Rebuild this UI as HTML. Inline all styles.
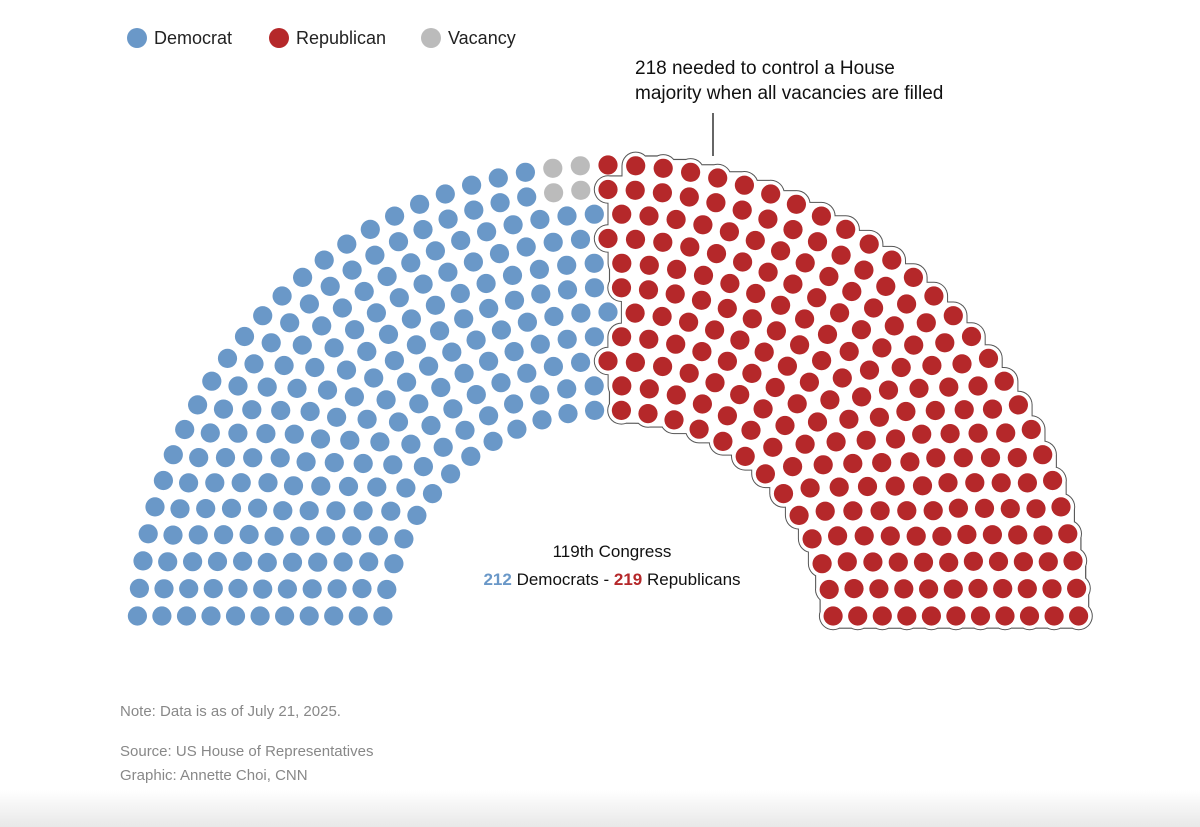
<!DOCTYPE html>
<html><head><meta charset="utf-8"><style>
html,body{margin:0;padding:0;background:#fff;}
body{width:1200px;height:827px;overflow:hidden;position:relative;font-family:"Liberation Sans",sans-serif;}
.fade{position:absolute;left:0;top:790px;width:1200px;height:37px;background:linear-gradient(#fff,#e8e8e8);}
</style></head><body>
<svg id="s" width="1200" height="827" style="position:absolute;left:0;top:0">
<defs>
<filter id="close" x="-5%" y="-5%" width="110%" height="110%">
<feMorphology operator="dilate" radius="6" result="d"/>
<feMorphology in="d" operator="erode" radius="6"/>
</filter>
</defs>
<g font-family="Liberation Sans, sans-serif">
<circle cx="137" cy="38" r="10" fill="#6a98c8"/><text x="154" y="44" font-size="18" fill="#222">Democrat</text>
<circle cx="279" cy="38" r="10" fill="#b5282a"/><text x="296" y="44" font-size="18" fill="#222">Republican</text>
<circle cx="431" cy="38" r="10" fill="#bbb"/><text x="448" y="44" font-size="18" fill="#222">Vacancy</text>
<text x="635" y="74" font-size="19" fill="#111">218 needed to control a House</text>
<text x="635" y="99" font-size="19" fill="#111">majority when all vacancies are filled</text>
<line x1="713" y1="113" x2="713" y2="156" stroke="#333" stroke-width="1.5"/>
<text x="612" y="557" font-size="17" fill="#111" text-anchor="middle">119th Congress</text>
<text x="612" y="585" font-size="17" fill="#111" text-anchor="middle"><tspan fill="#6a98c8" font-weight="bold">212</tspan> Democrats - <tspan fill="#b5282a" font-weight="bold">219</tspan> Republicans</text>
<text x="120" y="716" font-size="15" fill="#888">Note: Data is as of July 21, 2025.</text>
<text x="120" y="756" font-size="15" fill="#888">Source: US House of Representatives</text>
<text x="120" y="780" font-size="15" fill="#888">Graphic: Annette Choi, CNN</text>
</g>
<g id="l1" filter="url(#close)"></g><g id="l2" filter="url(#close)"></g><g id="l3"></g>
</svg>
<div class="fade"></div>
<script>
var cx=608,cy=636,r0=226,r1=471,rows=11,N=435;
var radii=[],sum=0;for(var i=0;i<rows;i++){var r=r0+(r1-r0)*i/(rows-1);radii.push(r);sum+=r;}
var cnt=[],fr=[],tot=0;for(i=0;i<rows;i++){var f=N*radii[i]/sum;cnt.push(Math.floor(f));fr.push([f-Math.floor(f),i]);tot+=Math.floor(f);}
fr.sort(function(a,b){return b[0]-a[0]});for(i=0;tot<N;i++,tot++)cnt[fr[i][1]]++;
var seats=[];
for(i=0;i<rows;i++){var r=radii[i],n=cnt[i],a0=Math.asin(20/r);
for(var j=0;j<n;j++){var t=(Math.PI-a0)-(Math.PI-2*a0)*j/(n-1);seats.push({t:t,row:i,x:cx+r*Math.cos(t),y:cy-r*Math.sin(t)});}}
seats.sort(function(a,b){return b.t-a.t});
var c10=0,c9=0;
for(i=196;i<seats.length;i++){var s=seats[i];
 if(s.row==10&&c10<3){s.sp=(c10<2?"g":"r");c10++;}
 else if(s.row==9&&c9<2){s.sp="g";c9++;}
 if(c10>=3&&c9>=2)break;}
var rest=seats.filter(function(s){return !s.sp;});
var ns="http://www.w3.org/2000/svg";
function c(g,x,y,r,f){var e=document.createElementNS(ns,"circle");e.setAttribute("cx",x.toFixed(1));e.setAttribute("cy",y.toFixed(1));e.setAttribute("r",r);e.setAttribute("fill",f);document.getElementById(g).appendChild(e);}
for(i=0;i<rest.length;i++){var s=rest[i];
 if(i<212){c("l3",s.x,s.y,9.6,"#6a98c8");}
 else{c("l1",s.x,s.y,14.2,"#555");c("l2",s.x,s.y,13.2,"#fff");c("l3",s.x,s.y,9.6,"#b5282a");}}
seats.forEach(function(s){if(s.sp)c("l3",s.x,s.y,9.6,s.sp=="g"?"#bbb":"#b5282a");});
</script>
</body></html>
